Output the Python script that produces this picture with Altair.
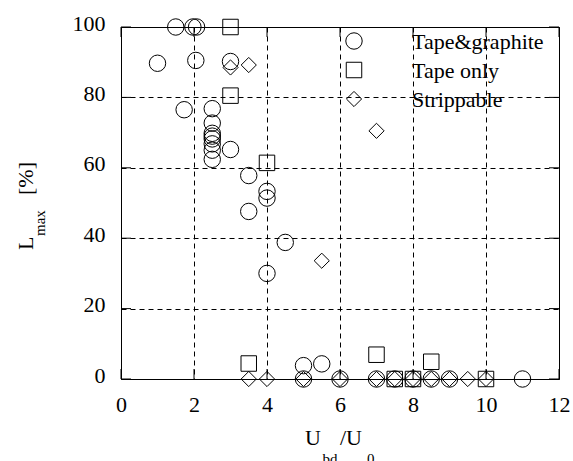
import altair as alt
import pandas as pd

# Tape & graphite samples (circles)
tg_x = [1.5, 1.97, 2.07, 1.0, 2.05, 3.0, 1.73,
        2.5, 2.5, 2.5, 2.5, 2.5, 2.5, 2.5, 2.5,
        3.0, 3.5, 4.0, 4.0, 3.5, 4.5, 4.0,
        5.0, 5.5, 5.0, 6.0, 7.0, 7.5, 8.0, 8.5, 9.0, 11.0]
tg_y = [100, 100, 100, 89.7, 90.5, 90.2, 76.5,
        76.8, 72.7, 69.8, 69.0, 68.2, 66.8, 65.0, 62.4,
        65.2, 57.8, 53.3, 51.4, 47.6, 38.8, 30.0,
        3.8, 4.3, 0, 0, 0, 0, 0, 0, 0, 0]

# Tape only samples (squares)
to_x = [3.0, 3.0, 4.0, 3.5, 7.0, 8.5, 7.5, 8.0, 10.0]
to_y = [100, 80.5, 61.4, 4.4, 6.9, 4.9, 0, 0, 0]

# Strippable samples (diamonds)
st_x = [3.0, 3.5, 7.0, 5.5, 3.5, 4.0, 5.0, 6.0, 7.0, 7.5, 8.0, 8.5, 9.0, 9.5, 10.0]
st_y = [88.5, 89.2, 70.5, 33.6, 0, 0, 0, 0, 0, 0, 0, 0, 0, 0, 0]

series_names = ["Tape&graphite", "Tape only", "Strippable"]
series_shapes = ["circle", "square", "diamond"]
series_sizes = [270, 240, 230]

tick_x = [0, 2, 4, 6, 8, 10, 12]
tick_y = [0, 20, 40, 60, 80, 100]

W, H = 438, 352
FONT = "Liberation Serif, Times New Roman, serif"

xs = alt.Scale(domain=[0, 12], nice=False, zero=False)
ys = alt.Scale(domain=[0, 100], nice=False, zero=False)

xaxis = alt.Axis(values=tick_x, grid=True, gridDash=[5, 4], gridColor="black",
                 gridOpacity=1, gridWidth=1, ticks=False, domain=False,
                 labelFont=FONT, labelFontSize=22, labelColor="black",
                 labelPadding=15, labelFlush=False, labelOverlap=False, title=None)
yaxis = alt.Axis(values=tick_y, grid=True, gridDash=[5, 4], gridColor="black",
                 gridOpacity=1, gridWidth=1, ticks=False, domain=False,
                 labelFont=FONT, labelFontSize=22, labelColor="black",
                 labelPadding=16, labelFlush=False, labelOverlap=False,
                 labelOffset=-4, title=None)


def series(xv, yv, shape, size):
    df = pd.DataFrame({"x": xv, "y": yv})
    return alt.Chart(df).mark_point(
        shape=shape, size=size, filled=False, color="black",
        strokeWidth=1, opacity=1
    ).encode(
        x=alt.X("x:Q", scale=xs, axis=xaxis),
        y=alt.Y("y:Q", scale=ys, axis=yaxis),
    )


layers = [
    series(tg_x, tg_y, "circle", series_sizes[0]),
    series(to_x, to_y, "square", series_sizes[1]),
    series(st_x, st_y, "diamond", series_sizes[2]),
]

# inward tick marks on all four sides of the frame
ydf = pd.DataFrame({"v": tick_y})
xdf = pd.DataFrame({"v": tick_x})
TL = 10
for a, b in [(0, TL), (W - TL, W)]:
    layers.append(alt.Chart(ydf).mark_rule(color="black", strokeWidth=1).encode(
        y=alt.Y("v:Q", scale=ys, axis=yaxis), x=alt.value(a), x2=alt.value(b)))
for a, b in [(H - TL, H), (0, TL)]:
    layers.append(alt.Chart(xdf).mark_rule(color="black", strokeWidth=1).encode(
        x=alt.X("v:Q", scale=xs, axis=xaxis), y=alt.value(a), y2=alt.value(b)))

# legend box in the upper right corner
for i, (name, shape, size) in enumerate(zip(series_names, series_shapes, series_sizes)):
    ldf = pd.DataFrame({"name": [name]})
    layers.append(alt.Chart(ldf).mark_point(
        shape=shape, size=size, filled=False, color="black", strokeWidth=1, opacity=1
    ).encode(x=alt.value(233), y=alt.value(14 + 29 * i)))
    layers.append(alt.Chart(ldf).mark_text(
        align="left", baseline="alphabetic", font=FONT, fontSize=22, color="black"
    ).encode(text="name:N", x=alt.value(291), y=alt.value(22 + 29 * i)))


def label(txt, x, y, size, angle=0):
    df = pd.DataFrame({"t": [txt]})
    kw = dict(align="left", baseline="alphabetic", font=FONT, fontSize=size, color="black")
    if angle:
        kw["angle"] = angle
    return alt.Chart(df).mark_text(**kw).encode(
        text="t:N", x=alt.value(x), y=alt.value(y))


# x axis title: U_bd / U_0
layers += [
    label("U", 184, 418, 22),
    label("bd", 201.5, 437, 15),
    label("/U", 219, 418, 22),
    label("0", 246, 437, 15),
]
# y axis title: L_max [%]
layers += [
    label("L", -88, 223, 22, 270),
    label("max", -76, 209, 15, 270),
    label("[%]", -88, 168, 22, 270),
]

chart = alt.layer(*layers).properties(
    width=W, height=H,
    padding={"left": 121, "top": 27, "right": 14, "bottom": 82},
    autosize=alt.AutoSizeParams(type="none"),
    background="white",
).configure_view(stroke="black", strokeWidth=1)

chart.save("out.html", embed_options={"renderer": "svg", "actions": False})
